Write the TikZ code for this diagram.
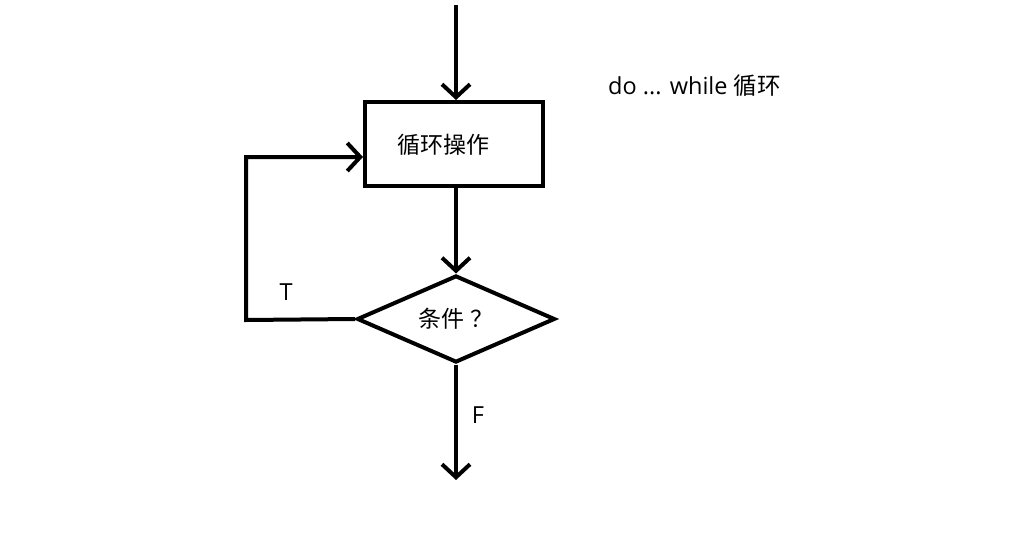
\documentclass[tikz,border=0pt]{standalone}
\usepackage{fontspec}
\setmainfont{Open Sans}
\newfontfamily\cjk{Noto Sans CJK SC}
\usetikzlibrary{arrows.meta,shapes.geometric}
\begin{document}
\begin{tikzpicture}[x=1pt,y=-1pt,
  every node/.style={font=\fontsize{23.5}{27}\selectfont},
  ln/.style={line width=4pt,black},
  arr/.style={ln,-{Straight Barb[length=13pt,width=28pt]}},
  boxst/.style={draw,ln,rectangle,minimum width=178pt,minimum height=84pt,inner sep=0pt},
  decst/.style={draw,ln,diamond,minimum width=198pt,minimum height=87pt,inner sep=0pt,shape aspect=2.3},
  lab/.style={inner sep=0pt}]
\useasboundingbox (0,0) rectangle (1018,535);
\fill[white] (0,0) rectangle (1018,535);
\node[boxst] (box) at (454,144) {};
\node[lab] (boxtext) at (443,145) {\cjk\fontsize{23}{27}\selectfont 循环操作};
\node[decst] (cond) at (456,319) {\cjk\fontsize{23}{27}\selectfont 条件\hspace{6pt}？};
\coordinate (top) at (456,5);
\coordinate (bot) at (456,480);
\coordinate (lc) at (246,320);
\node[lab] (t) at (286,292) {T};
\node[lab] (f) at (478,415) {F};
\node[lab,anchor=west] (title) at (608,86) {do ... while {\cjk\fontsize{23.5}{27}\selectfont 循环}};
\draw[arr] (top) -- (box.north -| top);
\draw[arr] (box.south -| top) -- (cond.north);
\draw[arr] (cond.west) -- (lc) |- ([yshift=-13pt]box.west);
\draw[arr] (cond.south) -- (bot);
\end{tikzpicture}
\end{document}
